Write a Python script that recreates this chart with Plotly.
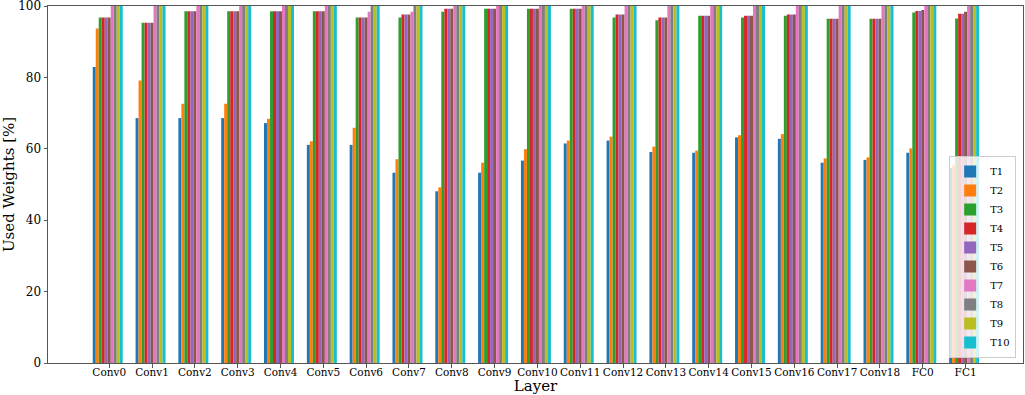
import plotly.graph_objects as go

layers = ["Conv0", "Conv1", "Conv2", "Conv3", "Conv4", "Conv5", "Conv6", "Conv7", "Conv8", "Conv9",
          "Conv10", "Conv11", "Conv12", "Conv13", "Conv14", "Conv15", "Conv16", "Conv17", "Conv18",
          "FC0", "FC1"]
series_names = ["T1", "T2", "T3", "T4", "T5", "T6", "T7", "T8", "T9", "T10"]

T1 = [82.9, 68.6, 68.6, 68.6, 67.2, 61.1, 61.1, 53.3, 48.1, 53.3, 56.7, 61.5, 62.3, 59.1, 58.9, 63.2, 62.8, 56.1, 56.9, 58.9, 54.6]
T2 = [93.7, 79.1, 72.6, 72.6, 68.4, 62.1, 65.9, 57.1, 49.2, 56.1, 59.9, 62.3, 63.4, 60.6, 59.5, 63.8, 64.1, 57.3, 57.6, 60.1, 55.4]
T3 = [96.8, 95.3, 98.5, 98.5, 98.5, 98.5, 96.8, 96.8, 98.4, 99.2, 99.2, 99.2, 96.8, 96.0, 97.3, 96.8, 97.3, 96.4, 96.4, 98.2, 96.5]
T4 = [96.8, 95.3, 98.5, 98.5, 98.5, 98.5, 96.8, 97.6, 99.2, 99.2, 99.2, 99.2, 97.6, 96.8, 97.3, 97.3, 97.6, 96.4, 96.4, 98.6, 97.8]
T5 = [96.8, 95.3, 98.5, 98.5, 98.5, 98.5, 96.8, 97.6, 99.2, 99.2, 99.2, 99.2, 97.6, 96.8, 97.3, 97.3, 97.6, 96.4, 96.4, 98.6, 97.8]
T6 = [96.8, 95.3, 98.5, 98.5, 98.5, 98.5, 96.8, 97.6, 99.2, 99.2, 99.2, 99.2, 97.6, 96.8, 97.3, 97.3, 97.6, 96.4, 96.4, 98.9, 98.4]
T7 = [100.0, 100.0, 100.0, 100.0, 100.0, 100.0, 98.4, 98.4, 100.0, 100.0, 100.0, 100.0, 100.0, 100.0, 100.0, 100.0, 100.0, 100.0, 100.0, 100.0, 100.0]
T8 = [100.0] * 21
T9 = [100.0] * 21
T10 = [100.0] * 21

yticks = [0, 20, 40, 60, 80, 100]

colors = ["#1f77b4", "#ff7f0e", "#2ca02c", "#d62728", "#9467bd",
          "#8c564b", "#e377c2", "#7f7f7f", "#bcbd22", "#17becf"]

all_series = [T1, T2, T3, T4, T5, T6, T7, T8, T9, T10]
idx = list(range(len(layers)))
w = 0.07

fig = go.Figure()
for i, (name, vals) in enumerate(zip(series_names, all_series)):
    fig.add_trace(go.Bar(
        x=idx, y=vals, name=name,
        width=w, offset=(i - 5) * w - w / 2,
        marker=dict(color=colors[i], line=dict(width=0)),
    ))

font_family = "DejaVu Serif"
fig.update_layout(
    width=1025, height=395,
    margin=dict(l=48, r=2, t=6, b=32),
    plot_bgcolor="white", paper_bgcolor="white",
    barmode="overlay",
    font=dict(family=font_family, size=11, color="black"),
    showlegend=True,
    legend=dict(
        x=0.993, y=0.014, xanchor="right", yanchor="bottom",
        bgcolor="rgba(255,255,255,0.8)", bordercolor="#cccccc", borderwidth=1,
        font=dict(family=font_family, size=10),
        tracegroupgap=0, itemwidth=30,
    ),
    xaxis=dict(
        range=[-1.43, 21.34],
        tickmode="array", tickvals=idx, ticktext=layers, tickangle=0,
        automargin=False,
        showgrid=False, zeroline=False,
        showline=True, linecolor="#555555", linewidth=1, mirror=True,
        ticks="outside", ticklen=3.5, tickcolor="#555555",
        ticklabelstandoff=-4,
        title=dict(text="Layer", font=dict(family=font_family, size=15), standoff=1),
        tickfont=dict(family=font_family, size=10.5),
    ),
    yaxis=dict(
        range=[0, 100],
        tickmode="array", tickvals=yticks,
        automargin=False, ticklabeloverflow="allow",
        showgrid=False, zeroline=False,
        showline=True, linecolor="#555555", linewidth=1, mirror=True,
        ticks="outside", ticklen=3.5, tickcolor="#555555",
        title=dict(text="Used Weights [%]", font=dict(family=font_family, size=15), standoff=4),
        tickfont=dict(family=font_family, size=12),
    ),
)

fig.write_html(
    "out.html",
    config={"displayModeBar": False},
    post_script="document.body.style.margin='0';document.body.style.overflow='hidden';",
)
